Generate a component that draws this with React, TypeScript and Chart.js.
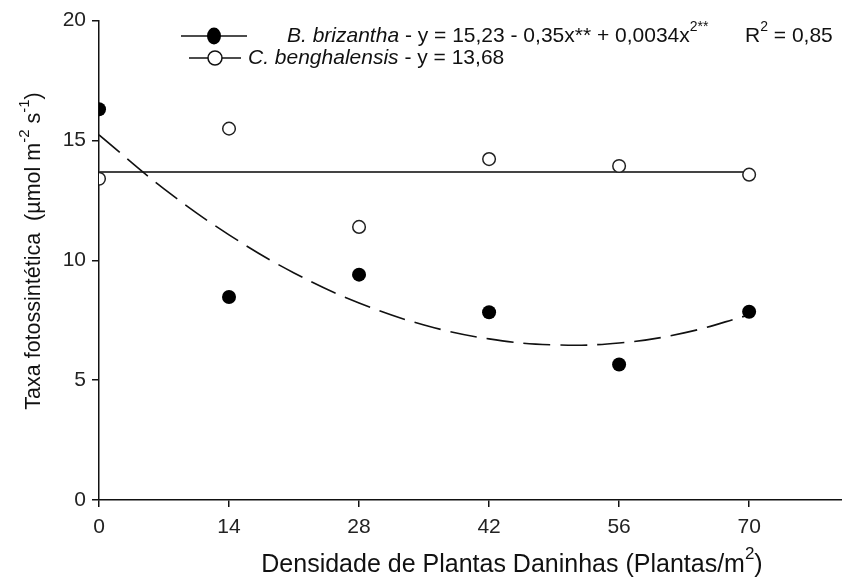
import React, { useEffect, useRef } from "react";
import { Chart, registerables } from "chart.js";

Chart.register(...registerables);

// ---- data ----
const DENSITY = [0, 14, 28, 42, 56, 70];
const BRIZANTHA = [16.3, 8.47, 9.4, 7.83, 5.65, 7.85];
const BENGHALENSIS = [13.4, 15.49, 11.39, 14.22, 13.93, 13.57];
const FIT_X = [0, 7, 14, 21, 28, 35, 42, 49, 56, 63, 70];
const FIT_BRIZANTHA = [15.23, 12.98, 11.06, 9.47, 8.22, 7.3, 6.72, 6.47, 6.55, 6.97, 7.72];
const MEAN_X = [0, 70];
const MEAN_BENGHALENSIS = [13.68, 13.68];
const X_TICKS = [0, 14, 28, 42, 56, 70];
const Y_TICKS = [0, 5, 10, 15, 20];

const FONT = "'Liberation Sans', Arial, sans-serif";

type Part = { t: string; italic?: boolean; sup?: boolean };

function partsWidth(ctx: CanvasRenderingContext2D, parts: Part[], size: number) {
  let w = 0;
  for (const p of parts) {
    const fs = p.sup ? Math.round(size * 0.68) : size;
    ctx.font = `${p.italic ? "italic " : ""}${fs}px ${FONT}`;
    w += ctx.measureText(p.t).width;
  }
  return w;
}

function drawSegments(ctx: CanvasRenderingContext2D, x: number, y: number, parts: Part[], size: number) {
  let cx = x;
  for (const p of parts) {
    const fs = p.sup ? Math.round(size * 0.68) : size;
    ctx.font = `${p.italic ? "italic " : ""}${fs}px ${FONT}`;
    ctx.fillText(p.t, cx, p.sup ? y - size * 0.42 : y);
    cx += ctx.measureText(p.t).width;
  }
  return cx;
}

const textPlugin = {
  id: "texts",
  afterDraw(chart: any) {
    const ctx: CanvasRenderingContext2D = chart.ctx;
    ctx.save();
    ctx.fillStyle = "#111";
    ctx.strokeStyle = "#111";
    ctx.textBaseline = "middle";
    ctx.textAlign = "left";

    const LS = 21;
    // legend row 1
    const y1 = 36;
    ctx.lineWidth = 1.5;
    ctx.beginPath();
    ctx.moveTo(181, y1);
    ctx.lineTo(247, y1);
    ctx.stroke();
    ctx.beginPath();
    ctx.ellipse(214, y1, 7, 8.5, 0, 0, Math.PI * 2);
    ctx.fillStyle = "#000";
    ctx.fill();
    ctx.fillStyle = "#111";
    drawSegments(
      ctx,
      287,
      y1,
      [
        { t: "B. brizantha", italic: true },
        { t: " - y = 15,23 - 0,35x** + 0,0034x" },
        { t: "2**", sup: true },
      ],
      LS
    );
    drawSegments(ctx, 745, y1, [{ t: "R" }, { t: "2", sup: true }, { t: " = 0,85" }], LS);

    // legend row 2
    const y2 = 58;
    ctx.beginPath();
    ctx.moveTo(189, y2);
    ctx.lineTo(241, y2);
    ctx.stroke();
    ctx.beginPath();
    ctx.arc(215, y2, 7, 0, Math.PI * 2);
    ctx.fillStyle = "#fff";
    ctx.fill();
    ctx.stroke();
    ctx.fillStyle = "#111";
    drawSegments(ctx, 248, y2, [{ t: "C. benghalensis", italic: true }, { t: " - y = 13,68" }], LS);

    // x title
    const XS = 25;
    const xParts: Part[] = [{ t: "Densidade de Plantas Daninhas (Plantas/m" }, { t: "2", sup: true }, { t: ")" }];
    const w = partsWidth(ctx, xParts, XS);
    drawSegments(ctx, 512 - w / 2, 565, xParts, XS);

    // y title
    const YS = 21.5;
    ctx.save();
    ctx.translate(34, 251);
    ctx.rotate(-Math.PI / 2);
    const yParts: Part[] = [
      { t: "Taxa fotossintética  (µmol m" },
      { t: "-2", sup: true },
      { t: " s" },
      { t: "-1", sup: true },
      { t: ")" },
    ];
    const wy = partsWidth(ctx, yParts, YS);
    drawSegments(ctx, -wy / 2, 0, yParts, YS);
    ctx.restore();

    ctx.restore();
  },
};

export default function App() {
  const ref = useRef<HTMLCanvasElement>(null);
  useEffect(() => {
    if (!ref.current) return;
    const chart = new Chart(ref.current, {
      type: "scatter",
      data: {
        datasets: [
          {
            type: "line",
            label: "mean",
            data: MEAN_X.map((x, i) => ({ x, y: MEAN_BENGHALENSIS[i] })),
            borderColor: "#444",
            borderWidth: 1.8,
            pointRadius: 0,
            order: 3,
          },
          {
            type: "line",
            label: "fit",
            data: FIT_X.map((x, i) => ({ x, y: FIT_BRIZANTHA[i] })),
            borderColor: "#111",
            borderWidth: 1.6,
            borderDash: [27, 10],
            pointRadius: 0,
            tension: 0.4,
            order: 2,
          },
          {
            label: "B. brizantha",
            data: DENSITY.map((x, i) => ({ x, y: BRIZANTHA[i] })),
            backgroundColor: "#000",
            borderColor: "#000",
            pointRadius: 7,
            borderWidth: 0,
            order: 1,
          },
          {
            label: "C. benghalensis",
            data: DENSITY.map((x, i) => ({ x, y: BENGHALENSIS[i] })),
            backgroundColor: "#fff",
            borderColor: "#222",
            pointRadius: 6.3,
            borderWidth: 1.5,
            order: 0,
          },
        ],
      },
      options: {
        animation: false,
        responsive: false,
        maintainAspectRatio: false,
        layout: { padding: { top: 20.5, right: 0, left: 0, bottom: 0 }, autoPadding: false },
        plugins: { legend: { display: false }, tooltip: { enabled: false } },
        scales: {
          x: {
            type: "linear",
            min: 0,
            max: 80,
            afterBuildTicks: (s: any) => {
              s.ticks = X_TICKS.map((v) => ({ value: v }));
            },
            afterFit: (s: any) => {
              s.height = 80;
            },
            grid: { drawOnChartArea: false, drawTicks: true, tickLength: 7, color: "#111", lineWidth: 1.5 },
            border: { display: true, color: "#111", width: 1.5 },
            ticks: { color: "#222", font: { family: FONT, size: 21 }, padding: 8 },
          },
          y: {
            type: "linear",
            min: 0,
            max: 20,
            afterBuildTicks: (s: any) => {
              s.ticks = Y_TICKS.map((v) => ({ value: v }));
            },
            afterFit: (s: any) => {
              s.width = 99;
            },
            grid: { drawOnChartArea: false, drawTicks: true, tickLength: 7, color: "#111", lineWidth: 1.5 },
            border: { display: true, color: "#111", width: 1.5 },
            ticks: { color: "#222", font: { family: FONT, size: 21 }, padding: 6 },
          },
        },
      },
      plugins: [textPlugin],
    });
    return () => chart.destroy();
  }, []);
  return (
    <div style={{ position: "fixed", left: 0, top: 0, width: 842, height: 580, background: "#fff" }}>
      <canvas ref={ref} width={842} height={580} style={{ width: 842, height: 580 }} />
    </div>
  );
}
